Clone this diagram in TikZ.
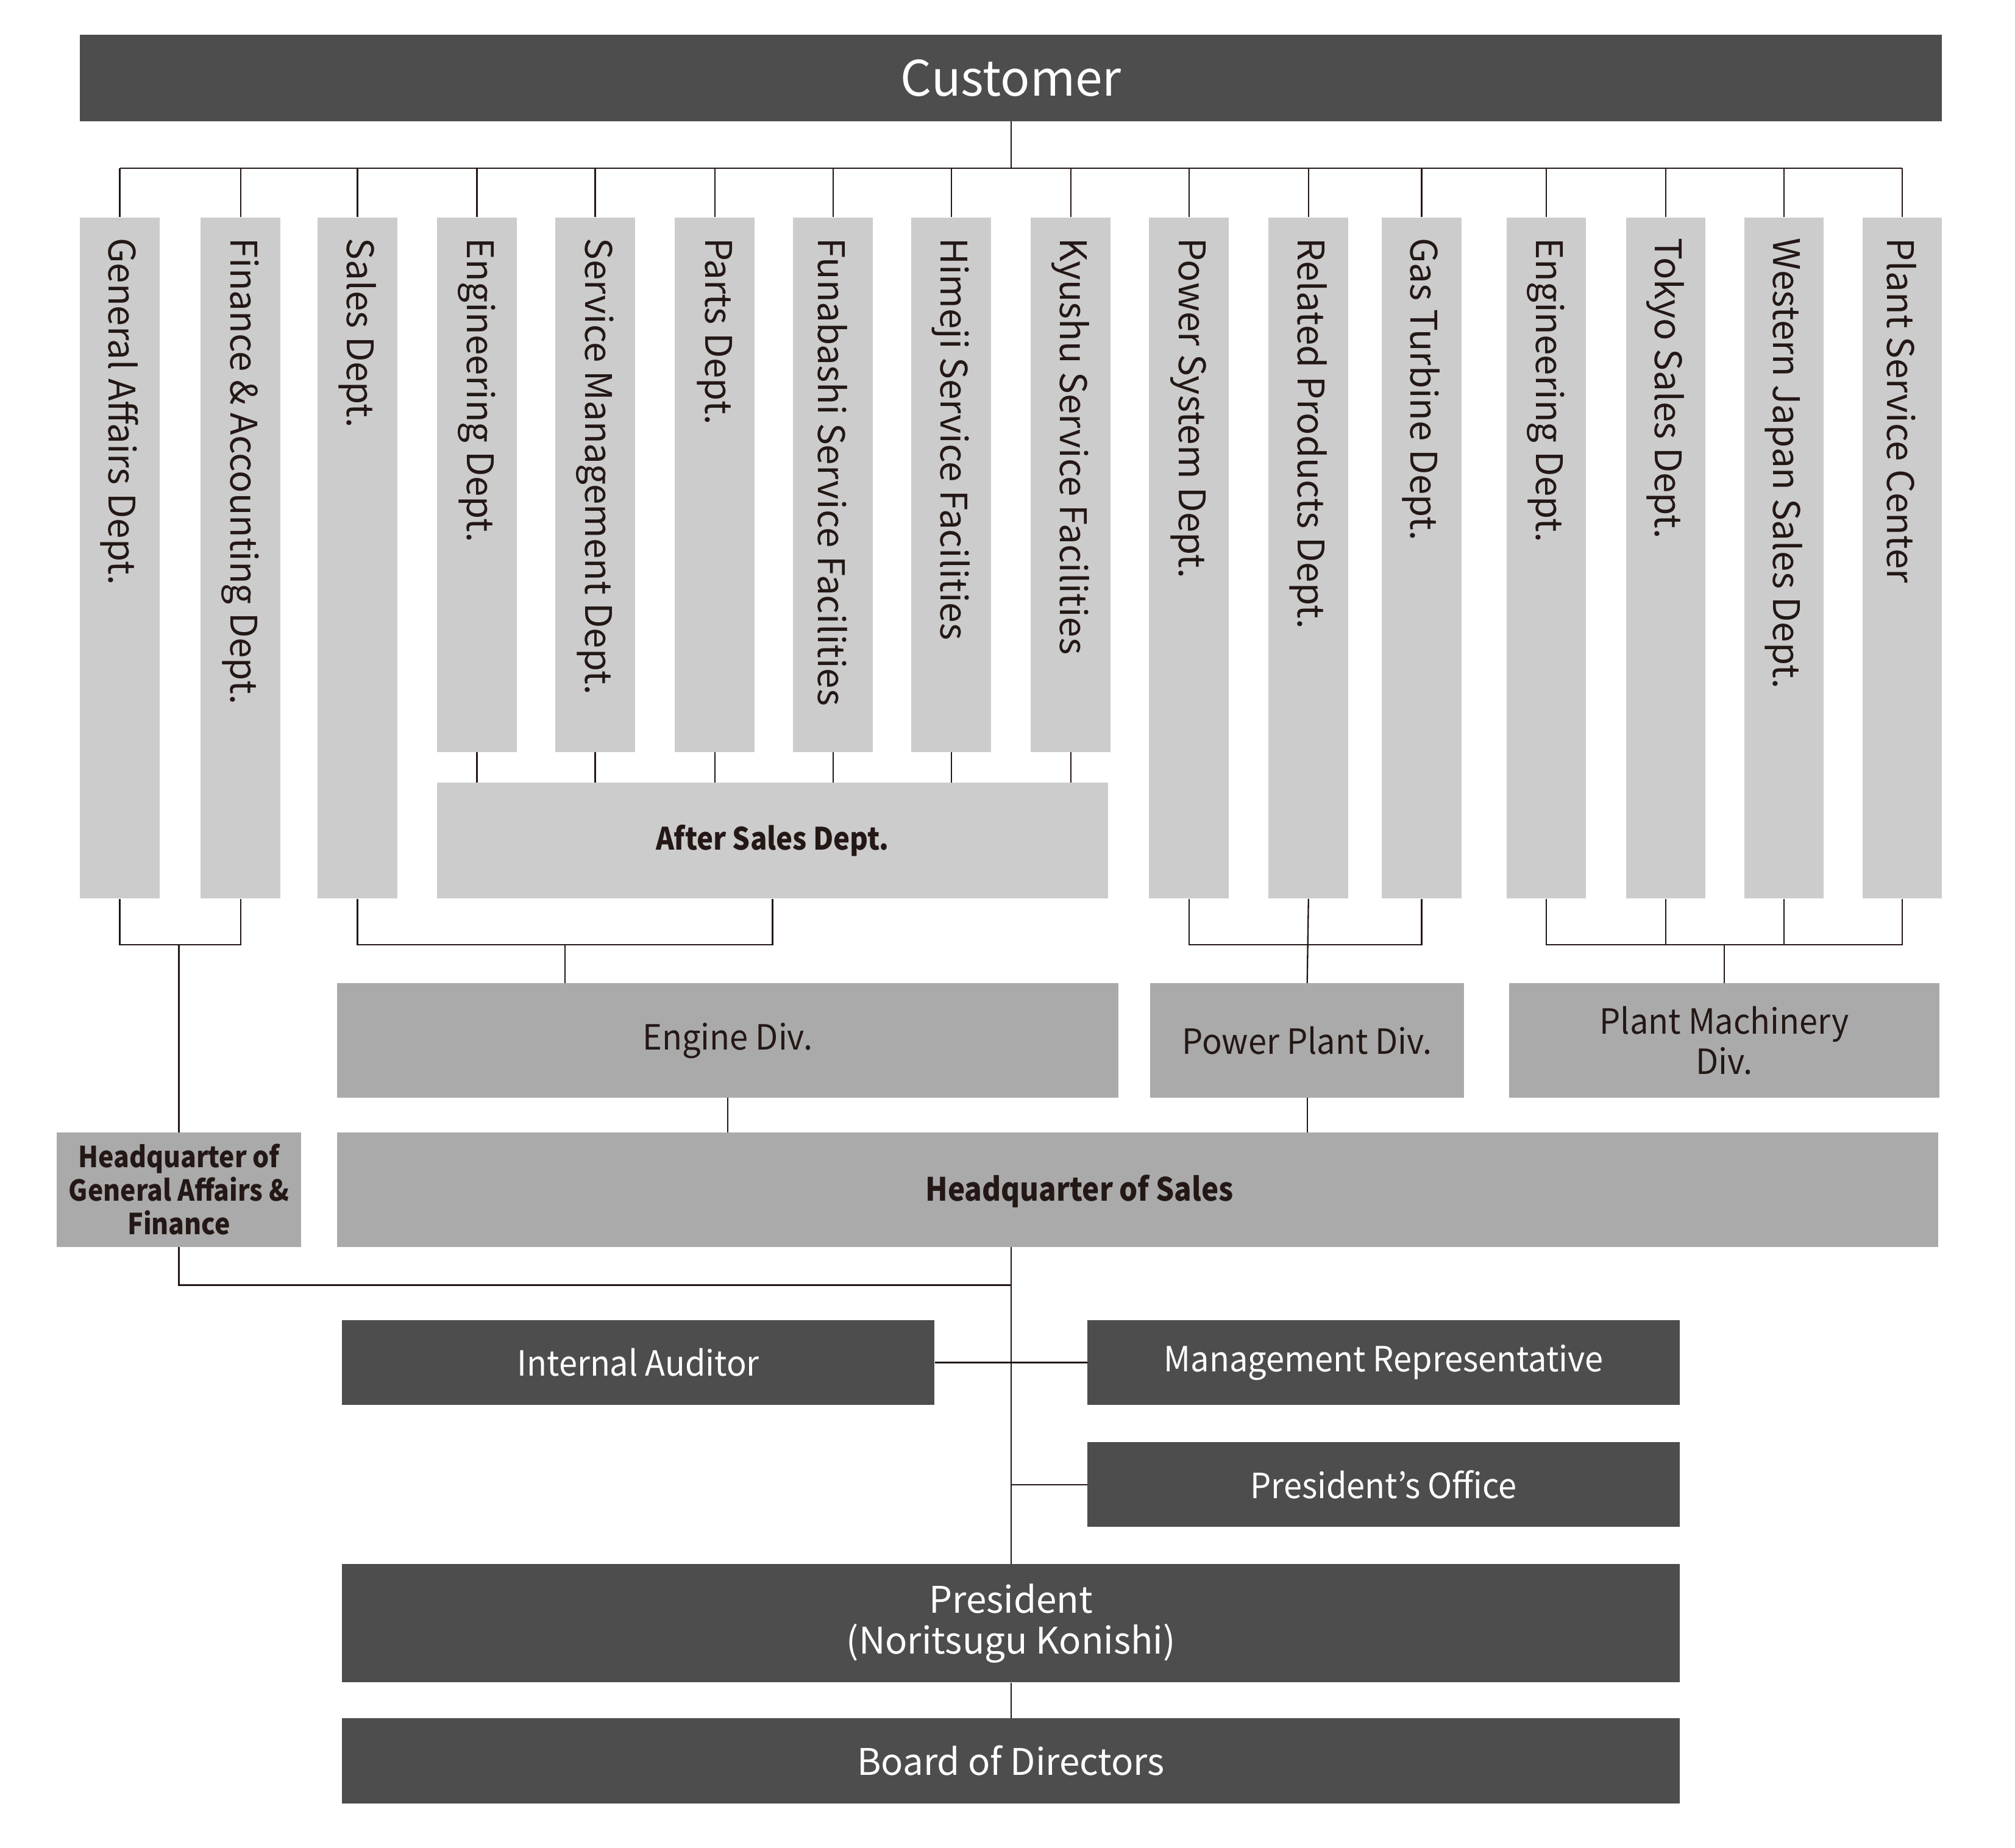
\documentclass[tikz,border=0pt]{standalone}
\usepackage{fontspec}
\setmainfont{Noto Sans CJK JP}
\newfontfamily\condfont[FakeStretch=0.9]{Noto Sans CJK JP}
\newfontfamily\narrowfont[FakeStretch=0.95]{Noto Sans CJK JP}
\usetikzlibrary{calc}
\definecolor{dk}{HTML}{4D4D4D}
\definecolor{lt}{HTML}{CCCCCC}
\definecolor{md}{HTML}{AAAAAA}
\definecolor{ink}{HTML}{231815}
\tikzset{
  box/.style={draw=none, inner sep=0pt, anchor=north west, align=center},
  dkbox/.style={box, fill=dk, text=white},
  ltbox/.style={box, fill=lt, text=ink},
  mdbox/.style={box, fill=md, text=ink},
  vlabel/.style={rotate=-90, anchor=west, inner sep=0pt, text=ink, font=\fontsize{28.5}{30}\selectfont},
  midtext/.style={font=\narrowfont\fontsize{27}{31}\selectfont},
  conn/.style={draw=ink, line width=1.1pt},
}
\newcommand{\vdept}[4]{% name, x, bottom, text
  \node[ltbox, minimum width=62pt, minimum height={(#3-169)*1pt}] (#1) at (#2,169) {};
  \node[vlabel] (#1t) at (#2+31,185) {#4};
}
\begin{document}
\begin{tikzpicture}[x=1pt,y=-1pt]
\useasboundingbox (0,0) rectangle (1568,1438);
% customer
\node[dkbox, minimum width=1449pt, minimum height=67pt, font=\fontsize{38}{40}\selectfont] (cust) at (62,27) {Customer};
% departments
\vdept{d1}{62}{699}{General Affairs Dept.}
\vdept{d2}{156}{699}{Finance \& Accounting Dept.}
\vdept{d3}{247}{699}{Sales Dept.}
\vdept{d4}{340}{585}{Engineering Dept.}
\vdept{d5}{432}{585}{Service Management Dept.}
\vdept{d6}{525}{585}{Parts Dept.}
\vdept{d7}{617}{585}{Funabashi Service Facilities}
\vdept{d8}{709}{585}{Himeji Service Facilities}
\vdept{d9}{802}{585}{Kyushu Service Facilities}
\vdept{d10}{894}{699}{Power System Dept.}
\vdept{d11}{987}{699}{Related Products Dept.}
\vdept{d12}{1075}{699}{Gas Turbine Dept.}
\vdept{d13}{1172}{699}{Engineering Dept.}
\vdept{d14}{1265}{699}{Tokyo Sales Dept.}
\vdept{d15}{1357}{699}{Western Japan Sales Dept.}
\vdept{d16}{1449}{699}{Plant Service Center}
% after sales
\node[ltbox, minimum width=522pt, minimum height=90pt, font=\condfont\fontsize{24}{28}\selectfont\bfseries] (after) at (340,609) {After Sales Dept.};
% divisions
\node[mdbox, minimum width=608pt, minimum height=89pt, midtext] (eng) at (262,765) {\raisebox{-2pt}{Engine Div.}};
\node[mdbox, minimum width=244pt, minimum height=89pt, midtext] (ppd) at (895,765) {Power Plant Div.};
\node[mdbox, minimum width=335pt, minimum height=89pt, midtext] (pmd) at (1174,765) {Plant Machinery\\Div.};
% headquarters
\node[mdbox, minimum width=190pt, minimum height=89pt, font=\condfont\fontsize{22.5}{26}\selectfont\bfseries] (hqga) at (44,881) {Headquarter of\\General Affairs \&\\Finance};
\node[mdbox, minimum width=1246pt, minimum height=89pt] (hqs) at (262,881) {};
\node[inner sep=0pt, text=ink, font=\condfont\fontsize{25}{30}\selectfont\bfseries] (hqst) at (840,927) {Headquarter of Sales};
% staff
\node[dkbox, minimum width=461pt, minimum height=66pt, midtext] (ia) at (266,1027) {Internal Auditor};
\node[dkbox, minimum width=461pt, minimum height=66pt, midtext] (mr) at (846,1027) {Management Representative};
\node[dkbox, minimum width=461pt, minimum height=66pt, midtext] (po) at (846,1122) {President’s Office};
\node[dkbox, minimum width=1041pt, minimum height=92pt, font=\fontsize{28.5}{32}\selectfont] (pres) at (266,1217) {President\\(Noritsugu Konishi)};
\node[dkbox, minimum width=1041pt, minimum height=66pt, font=\fontsize{28.5}{32}\selectfont] (bod) at (266,1337) {Board of Directors};
% coordinates
\coordinate (bar) at (0,131);
\coordinate (br) at (0,735);
\coordinate (jn) at (0,1000);
% top tree
\draw[conn] (cust.south) -- (cust.south |- bar);
\draw[conn] (d1.north |- bar) -- (d16.north |- bar);
\foreach \i in {1,...,16} { \draw[conn] (d\i.north) -- (d\i.north |- bar); }
% after sales links
\foreach \i in {4,...,9} { \draw[conn] (d\i.south) -- (d\i.south |- after.north); }
% bracket 1
\draw[conn] (d1.south) -- (d1.south |- br) -- (d2.south |- br) -- (d2.south);
\draw[conn] (hqga.north) -- (hqga.north |- br);
% bracket 2
\draw[conn] (d3.south) -- (d3.south |- br) -- (after.south |- br) -- (after.south);
\coordinate (m2) at ($(d3.south |- br)!0.5!(after.south |- br)$);
\draw[conn] (m2) -- (m2 |- eng.north);
% bracket 3
\draw[conn] (d10.south) -- (d10.south |- br) -- (d12.south |- br) -- (d12.south);
\draw[conn] (d11.south) -- (ppd.north);
% bracket 4
\draw[conn] (d13.south) -- (d13.south |- br) -- (d16.south |- br) -- (d16.south);
\draw[conn] (d14.south) -- (d14.south |- br);
\draw[conn] (d15.south) -- (d15.south |- br);
\draw[conn] (pmd.north) -- (pmd.north |- br);
% divisions to HQ
\draw[conn] (eng.south) -- (eng.south |- hqs.north);
\draw[conn] (ppd.south) -- (ppd.south |- hqs.north);
% HQs to president
\draw[conn] (hqga.south) -- (hqga.south |- jn) -- (pres.north |- jn);
\draw[conn] (pres.north |- hqs.south) -- (pres.north);
\draw[conn] (ia.east) -- (mr.west);
\draw[conn] (po.west) -- (po.west -| pres.north);
\draw[conn] (pres.south) -- (bod.north);
\end{tikzpicture}
\end{document}
